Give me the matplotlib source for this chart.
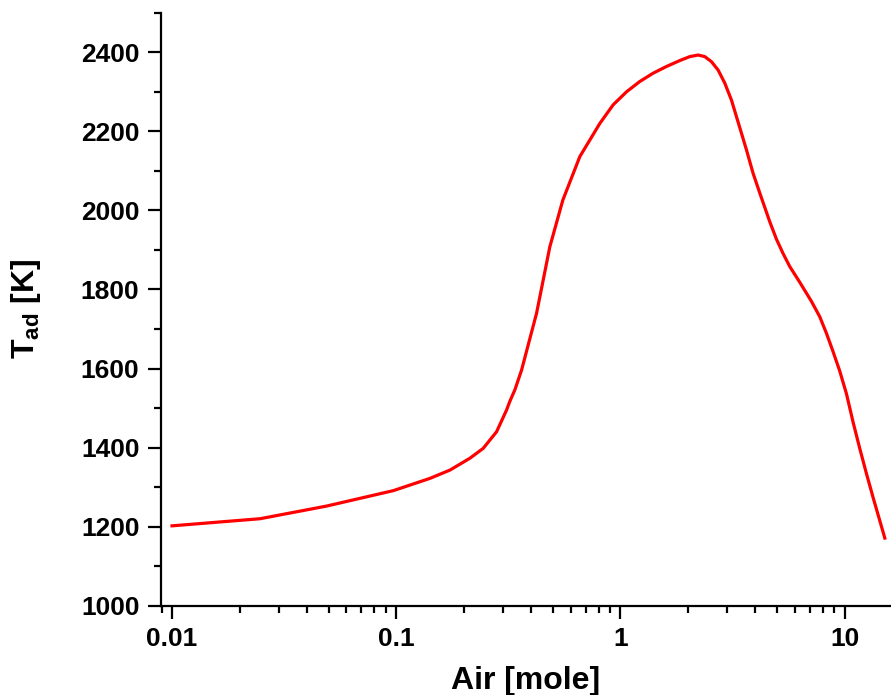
import matplotlib
matplotlib.use("Agg")
import matplotlib.pyplot as plt
from matplotlib.ticker import FixedLocator, MultipleLocator, LogLocator, NullFormatter, FuncFormatter

plt.rcParams['font.family'] = ['Liberation Sans', 'DejaVu Sans']
plt.rcParams['font.weight'] = 'bold'
plt.rcParams['mathtext.fontset'] = 'custom'
plt.rcParams['mathtext.rm'] = 'Liberation Sans:bold'
plt.rcParams['mathtext.it'] = 'Liberation Sans:bold'
plt.rcParams['mathtext.bf'] = 'Liberation Sans:bold'

air = [0.0100, 0.0247, 0.0489, 0.0970, 0.1413, 0.1736, 0.2131, 0.2443, 0.2803,
       0.3106, 0.3212, 0.3382, 0.3623, 0.4227, 0.4844, 0.5535, 0.659, 0.8095,
       0.9279, 1.065, 1.220, 1.399, 1.605, 1.840, 2.039, 2.220, 2.378, 2.548,
       2.727, 2.920, 3.128, 3.293, 3.467, 3.649, 3.905, 4.183, 4.637, 4.966,
       5.313, 5.691, 6.31, 7.11, 7.745, 8.297, 8.851, 9.506, 10.19, 10.9,
       11.69, 12.5, 13.36, 15.11]
tad = [1202, 1220, 1252, 1291, 1322, 1343, 1373, 1398, 1440,
       1495, 1517, 1546, 1596, 1740, 1908, 2026, 2136, 2220,
       2267, 2300, 2326, 2347, 2364, 2379, 2389, 2393, 2389, 2376,
       2355, 2322, 2279, 2237, 2195, 2153, 2094, 2044, 1971, 1927,
       1891, 1858, 1818, 1770, 1731, 1689, 1645, 1594, 1536, 1465,
       1397, 1335, 1276, 1171]

xticks = [0.01, 0.1, 1, 10]
xticklabels = ['0.01', '0.1', '1', '10']

fig = plt.figure(figsize=(8.91, 6.95), dpi=100)
ax = fig.add_axes([0.1807, 0.1285, 0.8193, 0.8532])
ax.plot(air, tad, color='#ff0000', lw=2.3, solid_joinstyle='round')

ax.set_xscale('log')
ax.set_xlim(0.00893, 16.1)
ax.set_ylim(1000, 2500)

ax.xaxis.set_major_locator(FixedLocator(xticks))
ax.xaxis.set_major_formatter(FuncFormatter(lambda v, p: xticklabels[xticks.index(v)] if v in xticks else ''))
ax.xaxis.set_minor_locator(LogLocator(base=10, subs=range(2, 10), numticks=20))
ax.xaxis.set_minor_formatter(NullFormatter())
ax.yaxis.set_major_locator(MultipleLocator(200))
ax.yaxis.set_minor_locator(MultipleLocator(100))

for s in ['top', 'right']:
    ax.spines[s].set_visible(False)
for s in ['left', 'bottom']:
    ax.spines[s].set_linewidth(1.6)

ax.tick_params(which='major', direction='out', length=9.5, width=1.6, labelsize=19, pad=6)
ax.tick_params(which='minor', direction='out', length=5.2, width=1.6)
for lab in ax.get_xticklabels() + ax.get_yticklabels():
    lab.set_fontweight('bold')

ax.set_xlabel('Air [mole]', fontsize=23, fontweight='bold', labelpad=11)
ax.set_ylabel(r'T$_{\mathregular{ad}}$ [K]', fontsize=23, fontweight='bold', labelpad=27)

fig.savefig('out.png', dpi=100)
